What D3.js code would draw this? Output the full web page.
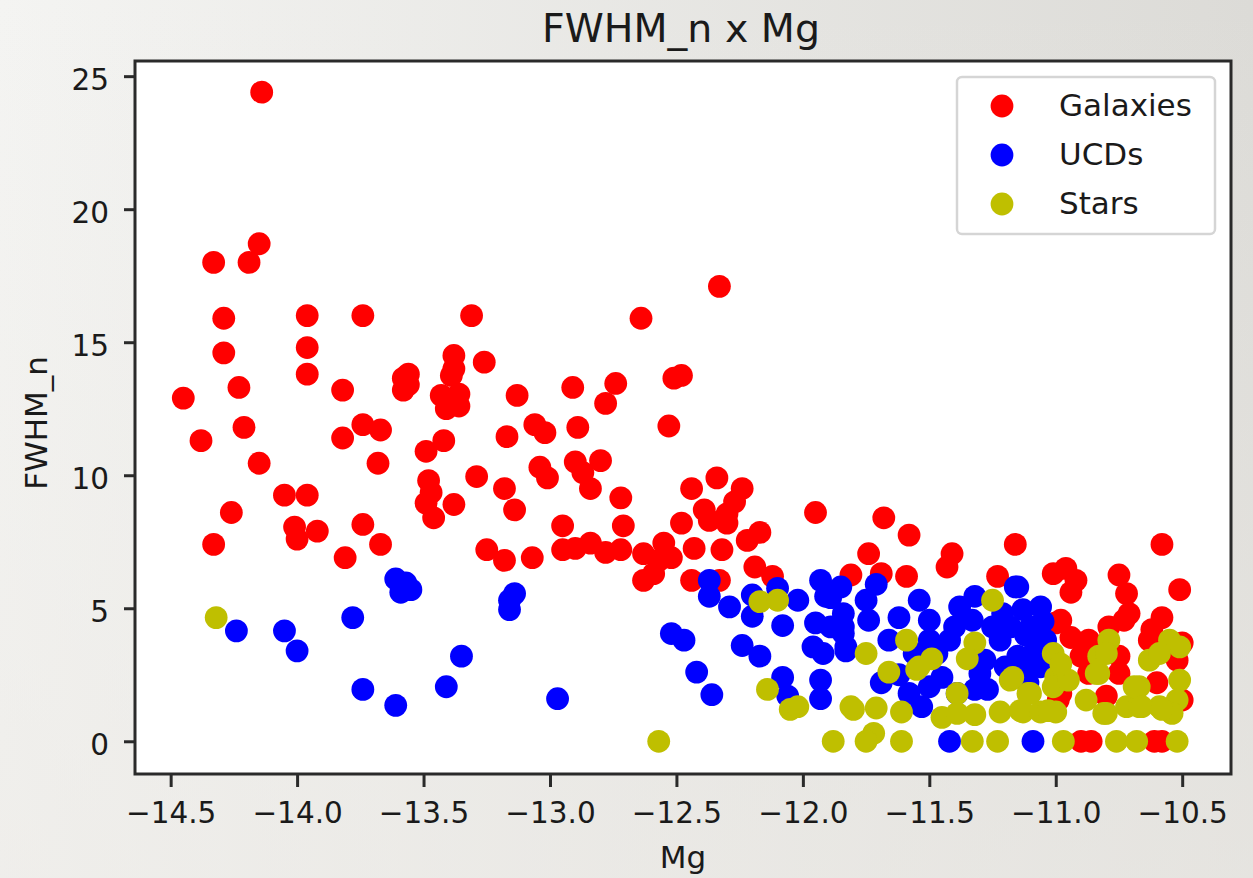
<!DOCTYPE html>
<html>
<head>
<meta charset="utf-8">
<script src="https://cdn.jsdelivr.net/npm/d3@7"></script>
<style>
  html, body { margin: 0; padding: 0; }
  body {
    width: 1253px; height: 878px; overflow: hidden;
    background:
      linear-gradient(to bottom, rgba(236,234,230,0) 0%, rgba(236,234,230,0.6) 100%),
      linear-gradient(to right, #f4f4f2 0%, #dcdbd7 100%);
  }
  svg { display: block; font-family: "DejaVu Sans", sans-serif; }
</style>
</head>
<body>
<svg id="chart" width="1253" height="878"></svg>
<script>
// ---------------- data ----------------
const galaxies = [
  [-14.45,12.9],[-14.38,11.3],[-14.33,18.0],[-14.33,7.4],[-14.29,15.9],[-14.29,14.6],[-14.26,8.6],[-14.23,13.3],
  [-14.21,11.8],[-14.19,18.0],[-14.15,18.7],[-14.15,10.45],[-14.14,24.4],[-14.05,9.25],[-14.01,8.05],[-14.0,7.6],
  [-13.96,16.0],[-13.96,14.8],[-13.96,13.8],[-13.96,9.25],[-13.92,7.9],[-13.81,6.9],[-13.82,13.2],[-13.82,11.4],
  [-13.74,8.15],[-13.74,16.0],[-13.74,11.9],[-13.67,11.7],[-13.68,10.45],[-13.67,7.4],[-13.58,13.2],[-13.58,13.65],
  [-13.56,13.8],[-13.56,13.4],[-13.49,10.9],[-13.48,9.8],[-13.47,9.35],[-13.46,8.4],[-13.49,8.95],[-13.42,11.3],
  [-13.43,13.0],[-13.41,12.5],[-13.39,13.75],[-13.38,14.5],[-13.38,14.0],[-13.36,13.05],[-13.36,12.6],[-13.38,8.9],
  [-13.31,16.0],[-13.29,9.95],[-13.26,14.25],[-13.25,7.2],[-13.18,6.8],[-13.17,11.45],[-13.18,9.5],[-13.14,8.7],
  [-13.13,13.0],[-13.07,6.9],[-13.06,11.9],[-13.02,11.6],[-13.04,10.3],[-13.01,9.9],[-12.95,8.1],[-12.95,7.2],
  [-12.91,13.3],[-12.89,11.8],[-12.90,10.5],[-12.87,10.1],[-12.84,9.5],[-12.90,7.25],[-12.84,7.45],[-12.80,10.55],
  [-12.78,12.7],[-12.74,13.45],[-12.72,9.15],[-12.71,8.1],[-12.72,7.2],[-12.78,7.1],[-12.64,15.9],[-12.63,7.05],
  [-12.53,11.85],[-12.51,13.65],[-12.48,13.75],[-12.33,17.1],
  [-12.44,9.5],[-12.34,9.9],[-12.24,9.5],[-12.27,9.0],[-11.95,8.6],[-12.48,8.2],[-12.39,8.7],[-12.37,8.3],
  [-12.30,8.55],[-12.30,8.2],[-12.17,7.85],[-12.22,7.55],[-12.32,7.2],[-12.55,7.45],[-12.43,7.25],[-12.52,6.9],
  [-12.57,6.8],[-12.19,6.55],[-12.12,6.2],[-12.63,6.05],[-12.59,6.3],[-12.44,6.05],[-12.33,6.05],
  [-11.68,8.4],[-11.58,7.75],[-11.74,7.05],[-11.41,7.05],[-11.43,6.55],[-11.16,7.4],[-11.81,6.25],[-11.69,6.3],
  [-11.59,6.2],[-11.23,6.2],
  [-10.58,7.4],[-11.01,6.3],[-10.96,6.5],[-10.94,5.6],[-10.92,6.05],[-10.75,6.25],[-10.72,5.55],[-10.51,5.7],
  [-11.0,4.45],[-10.71,4.8],[-10.79,4.3],[-10.58,4.65],[-10.62,4.2],[-10.94,3.9],[-10.87,3.8],[-10.90,3.2],
  [-10.75,3.2],[-10.63,3.8],[-10.52,3.05],[-10.50,3.7],[-10.75,2.55],[-10.87,2.55],[-10.60,2.2],[-10.99,1.55],
  [-10.80,1.7],[-10.50,1.55],[-10.90,0],[-10.86,0],[-10.61,0],[-10.58,0],[-10.98,1.8],[-10.73,4.55],[-10.98,4.55]
];

const ucds = [
  [-14.24,4.15],[-14.05,4.15],[-14.0,3.4],[-13.78,4.65],[-13.74,1.95],[-13.61,6.1],[-13.57,5.95],[-13.55,5.7],
  [-13.59,5.6],[-13.61,1.35],[-13.41,2.05],[-13.35,3.2],[-13.16,5.3],[-13.16,4.95],[-13.14,5.55],[-12.97,1.6],
  [-12.52,4.05],[-12.47,3.8],[-12.42,2.6],[-12.36,1.75],
  [-12.37,6.05],[-12.37,5.45],[-12.29,5.05],[-12.20,5.5],[-12.20,4.7],[-12.10,5.75],[-12.02,5.3],[-12.08,4.35],
  [-11.93,6.05],[-11.91,5.45],[-11.95,4.45],[-11.96,3.55],[-11.92,3.3],[-12.24,3.6],[-12.17,3.2],[-12.08,2.4],
  [-12.06,1.7],[-11.93,2.3],[-11.93,1.6],[-11.84,4.3],[-11.83,3.55],
  [-11.85,5.8],[-11.71,5.9],[-11.75,5.3],[-11.74,4.55],[-11.84,4.8],[-11.84,4.05],[-11.83,3.4],[-11.62,4.65],
  [-11.66,3.8],[-11.54,5.3],[-11.50,4.55],[-11.56,3.3],[-11.50,3.8],[-11.69,2.2],[-11.58,1.8],[-11.53,1.3],
  [-11.50,2.05],[-11.42,3.8],[-11.38,5.05],[-11.32,5.45],[-11.33,4.55],[-11.39,1.8],[-11.32,1.95],[-11.30,2.55],
  [-11.28,3.05],[-11.16,5.8],[-11.21,4.8],[-11.13,4.95],[-11.10,4.3],[-11.22,3.8],[-11.15,3.2],[-11.10,3.2],
  [-11.27,1.95],[-11.42,0],[-11.09,0],[-11.89,5.4],[-11.89,4.3],[-11.06,2.8],[-11.11,2.2],[-11.04,3.8],
  [-11.06,5.05],[-11.15,5.8],
  [-11.12,4.0],[-11.05,4.5],[-11.18,4.3],[-11.08,3.5],[-11.20,2.8],[-11.14,2.6],[-11.45,2.4],[-11.47,3.3],
  [-11.62,2.5],[-11.25,4.3],[-11.40,4.3],[-11.03,3.1]
];

const stars = [
  [-14.32,4.65],[-12.57,0],[-12.14,1.95],[-12.05,1.2],[-12.02,1.3],[-12.17,5.25],[-12.10,5.3],[-11.88,0],
  [-11.25,5.3],[-11.59,3.8],[-11.75,3.3],[-11.66,2.6],[-11.49,3.1],[-11.55,2.7],[-11.32,3.7],[-11.35,3.1],
  [-11.18,2.3],[-11.11,1.8],[-11.39,1.8],[-11.80,1.2],[-11.71,1.25],[-11.61,1.1],[-11.45,0.9],[-11.39,1.05],
  [-11.32,1.0],[-11.22,1.1],[-11.13,1.1],[-11.72,0.3],[-11.75,0],[-11.61,0],[-11.33,0],[-11.23,0],
  [-11.81,1.3],[-11.54,2.8],[-11.17,2.4],[-11.14,1.15],[-11.06,1.1],[-11.00,1.1],[-11.01,3.3],[-11.00,2.4],
  [-11.01,2.05],[-10.79,3.8],[-10.83,3.2],[-10.83,2.55],[-10.88,1.55],[-10.80,1.05],[-10.72,1.3],[-10.67,2.05],
  [-10.63,3.05],[-10.55,3.8],[-10.51,3.55],[-10.51,2.3],[-10.52,1.55],[-10.59,1.3],[-10.67,1.3],[-10.54,1.05],
  [-10.97,0],[-10.76,0],[-10.68,0],[-10.52,0],[-10.95,2.3],[-10.84,2.55],[-10.80,3.3],[-10.69,2.05],
  [-10.59,3.3],[-10.66,1.3],[-10.58,1.2],[-10.81,1.05],[-11.03,1.15],[-11.10,1.8],[-10.98,2.9]
];

const seriesNames = ["Galaxies", "UCDs", "Stars"];
const seriesColors = ["#ff0000", "#0000ff", "#bfbf00"];
const xTicks = [-14.5, -14.0, -13.5, -13.0, -12.5, -12.0, -11.5, -11.0, -10.5];
const yTicks = [0, 5, 10, 15, 20, 25];
const titleText = "FWHM_n x Mg";
const xLabel = "Mg";
const yLabel = "FWHM_n";

// ---------------- layout ----------------
const plot = { left: 135, right: 1231, top: 61, bottom: 774 };
const svg = d3.select("#chart");

const x = d3.scaleLinear().domain([-14.641, -10.307]).range([plot.left, plot.right]);
const y = d3.scaleLinear().domain([-1.23, 25.57]).range([plot.bottom, plot.top]);

// plot background
svg.append("rect")
  .attr("x", plot.left).attr("y", plot.top)
  .attr("width", plot.right - plot.left).attr("height", plot.bottom - plot.top)
  .attr("fill", "#ffffff");

// points
const allSeries = [galaxies, ucds, stars];
const pts = svg.append("g");
allSeries.forEach((data, i) => {
  pts.append("g").selectAll("circle").data(data).join("circle")
    .attr("cx", d => x(d[0]))
    .attr("cy", d => y(d[1]))
    .attr("r", 11.4)
    .attr("fill", seriesColors[i]);
});

// axes
const tickColor = "#2a2a2a";
const xAxis = svg.append("g")
  .attr("transform", `translate(0,${plot.bottom})`)
  .call(d3.axisBottom(x).tickValues(xTicks).tickFormat(d3.format(".1f")).tickSize(13).tickPadding(17));
const yAxis = svg.append("g")
  .attr("transform", `translate(${plot.left},0)`)
  .call(d3.axisLeft(y).tickValues(yTicks).tickFormat(d3.format("d")).tickSize(11).tickPadding(15));

[xAxis, yAxis].forEach(g => {
  g.select(".domain").remove();
  g.selectAll(".tick line").attr("stroke", tickColor).attr("stroke-width", 3);
  g.selectAll(".tick text")
    .attr("fill", "#1a1a1a")
    .style("font-family", "DejaVu Sans, sans-serif")
    .style("font-size", "29.5px");
});
yAxis.selectAll(".tick text").attr("dy", "0.45em");
xAxis.selectAll(".tick text").attr("dy", "0.66em");

// frame
svg.append("rect")
  .attr("x", plot.left).attr("y", plot.top)
  .attr("width", plot.right - plot.left).attr("height", plot.bottom - plot.top)
  .attr("fill", "none").attr("stroke", tickColor).attr("stroke-width", 3);

// title & labels
svg.append("text")
  .attr("x", 681).attr("y", 42)
  .attr("text-anchor", "middle")
  .attr("fill", "#1a1a1a")
  .style("font-size", "39.5px")
  .text(titleText);

svg.append("text")
  .attr("x", 683).attr("y", 868)
  .attr("text-anchor", "middle")
  .attr("fill", "#1a1a1a")
  .style("font-size", "31px")
  .text(xLabel);

svg.append("text")
  .attr("transform", "translate(47,423) rotate(-90)")
  .attr("text-anchor", "middle")
  .attr("fill", "#1a1a1a")
  .style("font-size", "31px")
  .text(yLabel);

// legend
const legend = svg.append("g");
legend.append("rect")
  .attr("x", 957).attr("y", 77).attr("width", 258).attr("height", 157)
  .attr("rx", 5).attr("ry", 5)
  .attr("fill", "#ffffff").attr("stroke", "#d5d5d5").attr("stroke-width", 2.5);
const legendY = d3.scalePoint().domain(seriesNames).range([106, 204]);
seriesNames.forEach((name, i) => {
  legend.append("circle")
    .attr("cx", 1002).attr("cy", legendY(name)).attr("r", 11.4)
    .attr("fill", seriesColors[i]);
  legend.append("text")
    .attr("x", 1059).attr("y", legendY(name) + 10)
    .attr("fill", "#1a1a1a")
    .style("font-size", "31px")
    .text(name);
});
</script>
</body>
</html>
